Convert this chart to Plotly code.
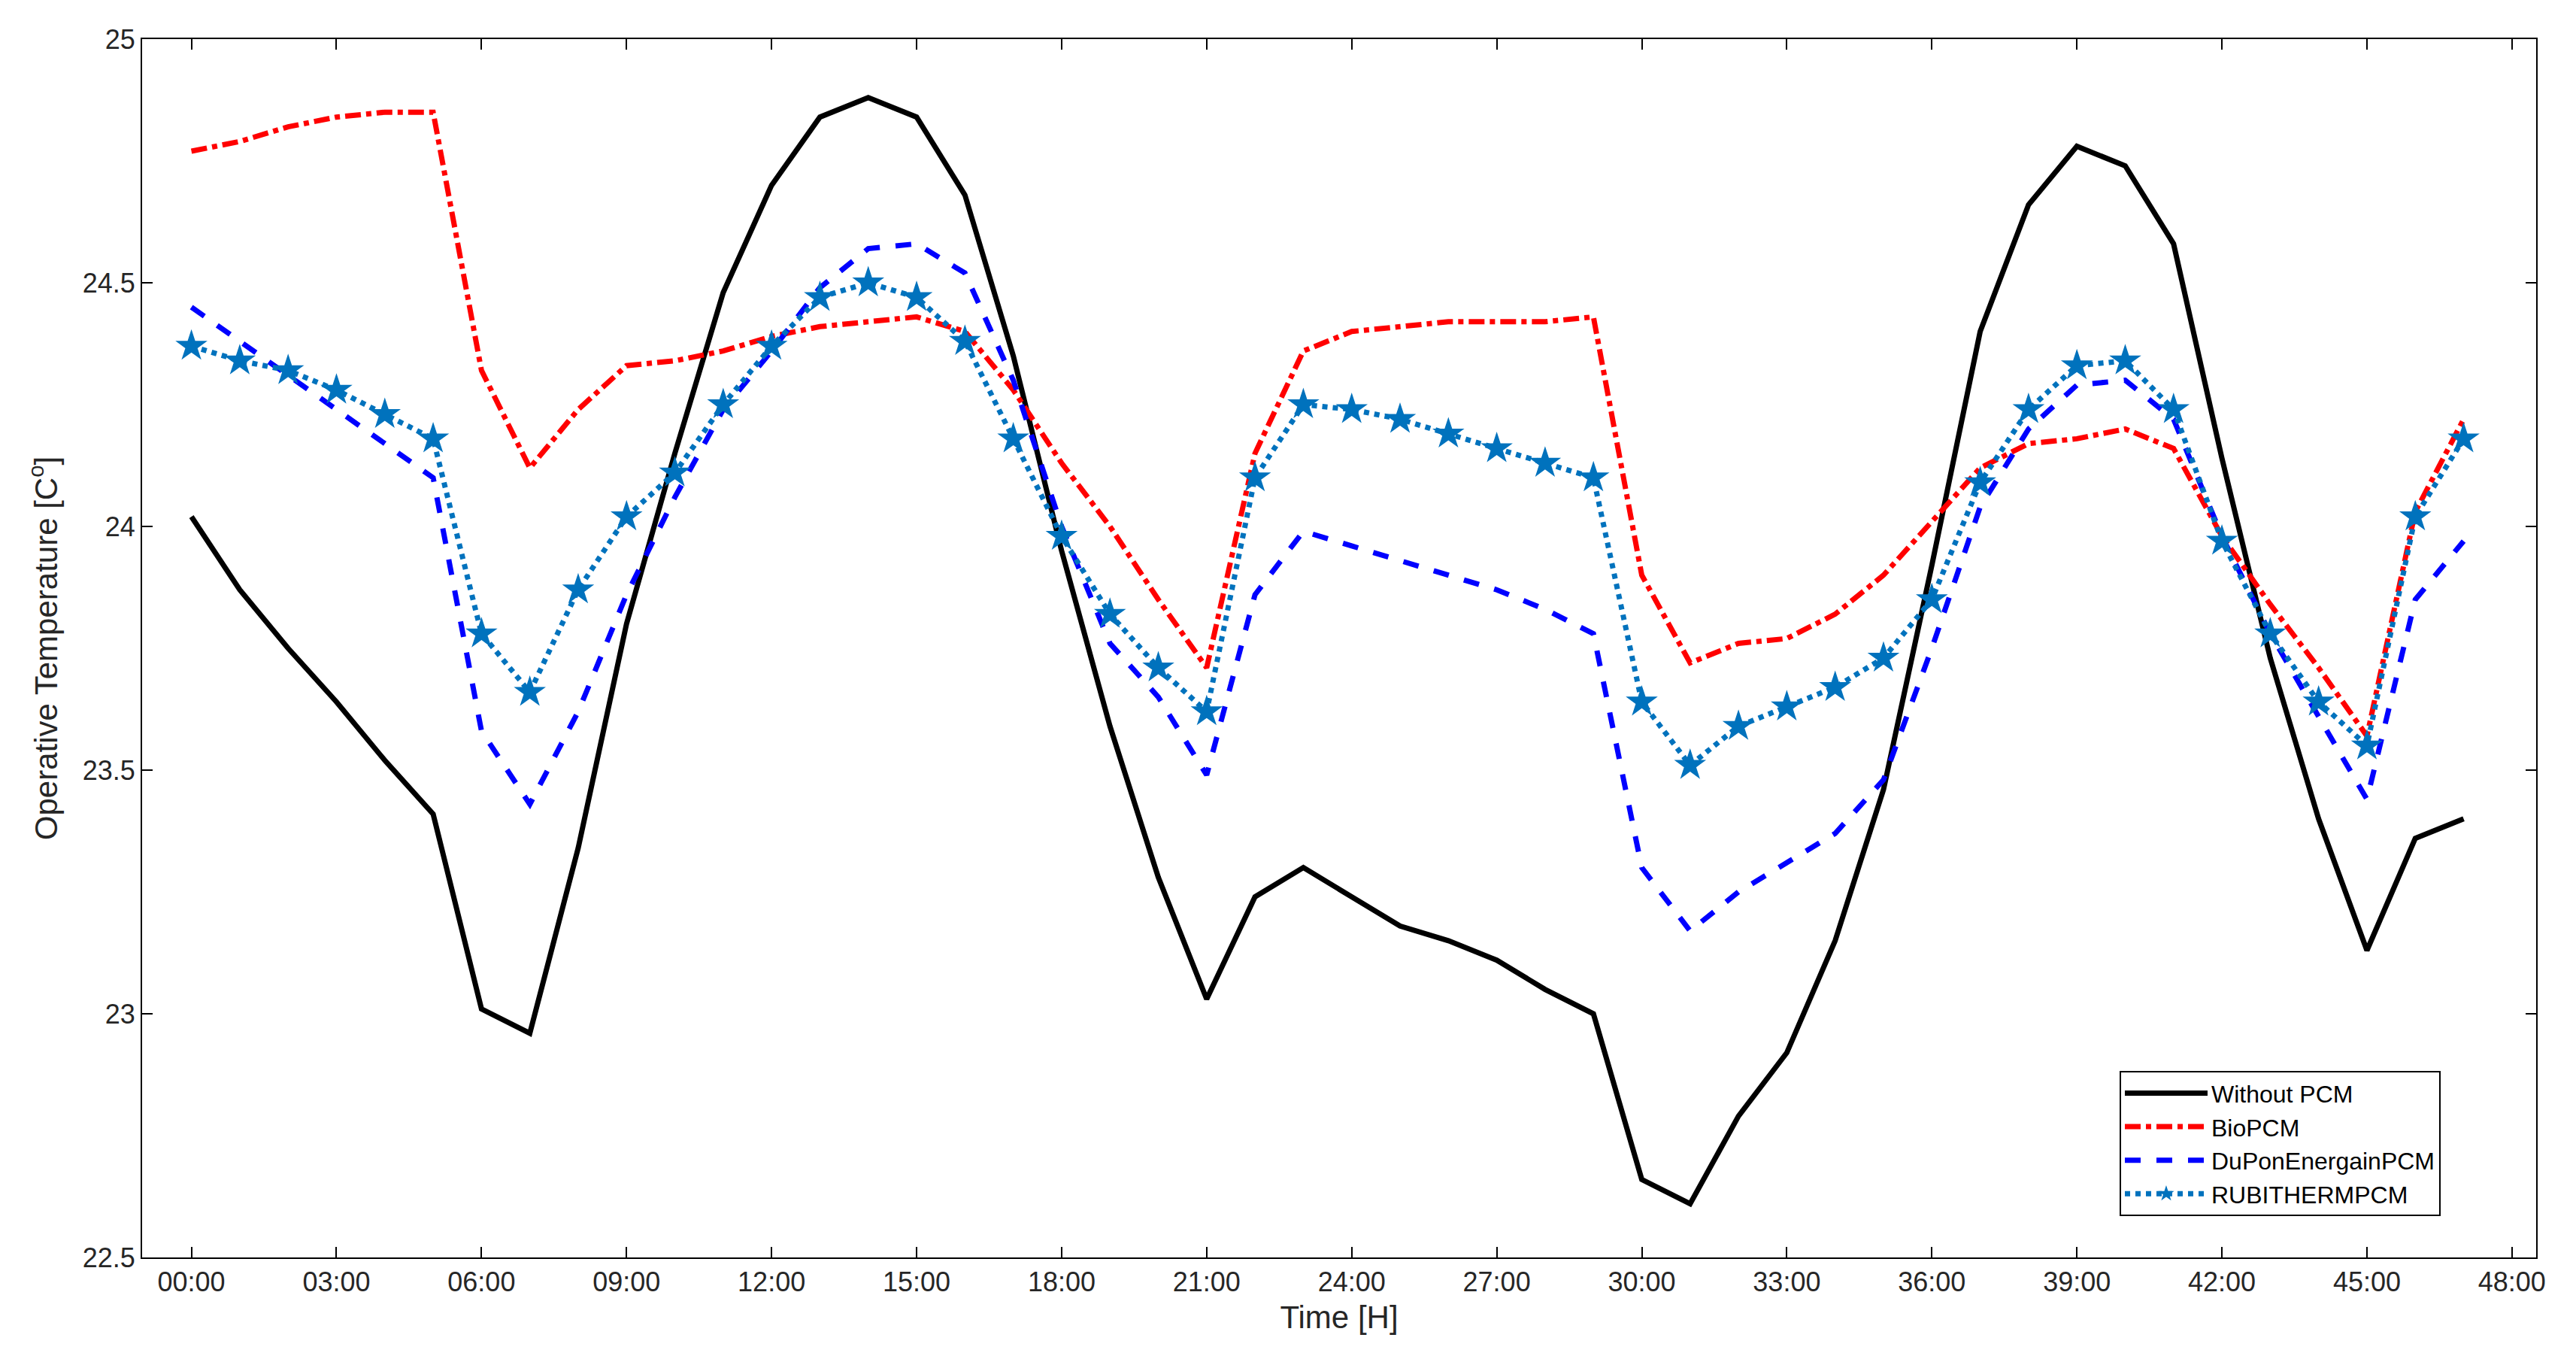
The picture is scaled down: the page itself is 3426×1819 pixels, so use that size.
import plotly.graph_objects as go

hours = list(range(48))
without_pcm = [24.02,23.87,23.75,23.64,23.52,23.41,23.01,22.96,23.34,23.80,24.15,24.48,24.70,24.84,24.88,24.84,24.68,24.35,23.95,23.59,23.28,23.03,23.24,23.30,23.24,23.18,23.15,23.11,23.05,23.00,22.66,22.61,22.79,22.92,23.15,23.46,23.92,24.40,24.66,24.78,24.74,24.58,24.14,23.73,23.40,23.13,23.36,23.40]
bio_pcm = [24.77,24.79,24.82,24.84,24.85,24.85,24.32,24.12,24.24,24.33,24.34,24.36,24.39,24.41,24.42,24.43,24.40,24.28,24.13,24.00,23.85,23.71,24.15,24.36,24.40,24.41,24.42,24.42,24.42,24.43,23.90,23.72,23.76,23.77,23.82,23.90,24.01,24.12,24.17,24.18,24.20,24.16,23.98,23.84,23.71,23.57,24.03,24.22]
dupont_pcm = [24.45,24.38,24.31,24.24,24.17,24.10,23.58,23.43,23.62,23.86,24.06,24.24,24.36,24.49,24.57,24.58,24.52,24.30,24.00,23.76,23.65,23.49,23.86,23.99,23.96,23.93,23.90,23.87,23.83,23.78,23.30,23.17,23.25,23.31,23.37,23.48,23.75,24.04,24.20,24.29,24.30,24.22,23.98,23.78,23.61,23.44,23.85,23.97]
rubitherm_pcm = [24.37,24.34,24.32,24.28,24.23,24.18,23.78,23.66,23.87,24.02,24.11,24.25,24.37,24.47,24.50,24.47,24.38,24.18,23.98,23.82,23.71,23.62,24.10,24.25,24.24,24.22,24.19,24.16,24.13,24.10,23.64,23.51,23.59,23.63,23.67,23.73,23.85,24.09,24.24,24.33,24.34,24.24,23.97,23.78,23.64,23.55,24.02,24.18]
tick_hours = list(range(0, 49, 3))
tick_labels = [f"{h:02d}:00" for h in tick_hours]
y_ticks = [22.5, 23, 23.5, 24, 24.5, 25]

fig = go.Figure()
fig.add_trace(go.Scatter(x=hours, y=without_pcm, mode="lines", name="Without PCM",
                         line=dict(color="black", width=7)))
fig.add_trace(go.Scatter(x=hours, y=bio_pcm, mode="lines", name="BioPCM",
                         line=dict(color="red", width=7, dash="dashdot")))
fig.add_trace(go.Scatter(x=hours, y=dupont_pcm, mode="lines", name="DuPonEnergainPCM",
                         line=dict(color="blue", width=7, dash="dash")))
fig.add_trace(go.Scatter(x=hours, y=rubitherm_pcm, mode="lines+markers", name="RUBITHERMPCM",
                         line=dict(color="#0072BD", width=7, dash="dot"),
                         marker=dict(symbol="star", size=32, color="#0072BD")))

axis_common = dict(showline=True, linecolor="black", linewidth=2, mirror="ticks",
                   ticks="inside", ticklen=14, tickwidth=2, tickcolor="black",
                   showgrid=False, zeroline=False,
                   tickfont=dict(family="Liberation Sans, Arial", size=36, color="#262626"))
fig.update_xaxes(range=[-1.02, 48.5], tickvals=tick_hours, ticktext=tick_labels,
                 title=dict(text="Time [H]", font=dict(family="Liberation Sans, Arial", size=42, color="#262626"), standoff=12),
                 **axis_common)
fig.update_yaxes(range=[22.5, 25], tickvals=y_ticks, ticktext=["22.5","23","23.5","24","24.5","25"],
                 title=dict(text="Operative Temperature [C<sup>o</sup>]", font=dict(family="Liberation Sans, Arial", size=42, color="#262626"), standoff=20),
                 **axis_common)
fig.update_layout(width=3426, height=1819, plot_bgcolor="white", paper_bgcolor="white",
                  margin=dict(l=181, r=61, t=44, b=155),
                  legend=dict(x=0.826, y=0.153, xanchor="left", yanchor="top",
                              bordercolor="black", borderwidth=2, bgcolor="white",
                              font=dict(family="Liberation Sans, Arial", size=32, color="black"),
                              itemwidth=110))
fig.write_html("out.html")
